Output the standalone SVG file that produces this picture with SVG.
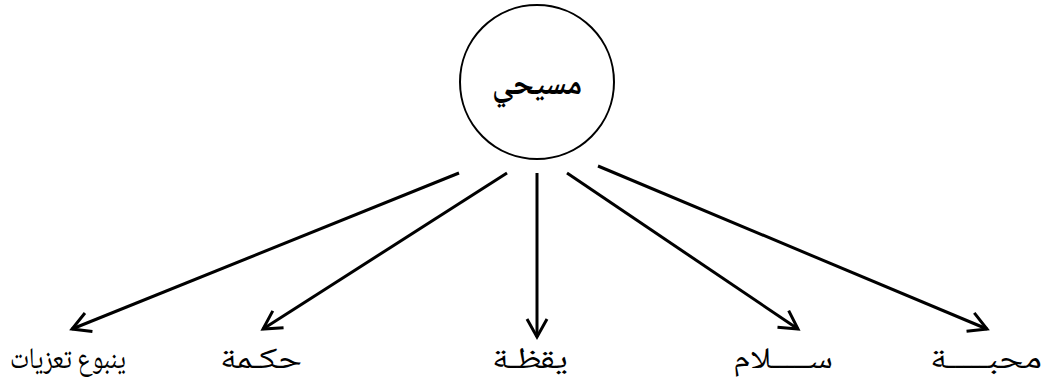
<svg xmlns="http://www.w3.org/2000/svg" width="1047" height="388" viewBox="0 0 1047 388">
<style>
.lbl{font-family:"Noto Naskh Arabic","Noto Sans Arabic","DejaVu Sans",sans-serif;font-size:30px;fill:#000;text-anchor:middle}
.ttl{font-family:"Noto Naskh Arabic","Noto Sans Arabic","DejaVu Sans",sans-serif;font-size:33px;font-weight:bold;fill:#000;text-anchor:middle}
.edge{stroke:#000;stroke-width:3;fill:none;marker-end:url(#ah)}
</style>
<defs>
<marker id="ah" markerUnits="userSpaceOnUse" markerWidth="30" markerHeight="30" refX="20" refY="12" orient="auto" viewBox="0 0 30 24">
<path d="M2,2 L20,12 L2,22" fill="none" stroke="#000" stroke-width="3"/>
</marker>
</defs>
<g id="center">
<circle cx="537" cy="82" r="77" fill="#fff" stroke="#000" stroke-width="2"/>
<text class="ttl" x="537" y="94" textLength="90" lengthAdjust="spacingAndGlyphs">مسيحي</text>
</g>
<g id="connectors">
<line class="edge" x1="459" y1="173" x2="72" y2="329"/>
<line class="edge" x1="507" y1="173" x2="263" y2="329"/>
<line class="edge" x1="537" y1="173" x2="537" y2="337"/>
<line class="edge" x1="567" y1="173" x2="798" y2="329"/>
<line class="edge" x1="598" y1="166" x2="987" y2="329"/>
</g>
<g id="n1"><text class="lbl" x="68" y="368" textLength="116" lengthAdjust="spacingAndGlyphs">ينبوع تعزيات</text></g>
<g id="n2"><text class="lbl" x="261" y="368" textLength="82" lengthAdjust="spacingAndGlyphs">حكـمة</text></g>
<g id="n3"><text class="lbl" x="530" y="368" textLength="76" lengthAdjust="spacingAndGlyphs">يقظـة</text></g>
<g id="n4"><text class="lbl" x="783" y="368" textLength="100" lengthAdjust="spacingAndGlyphs">ســـــلام</text></g>
<g id="n5"><text class="lbl" x="986" y="368" textLength="112" lengthAdjust="spacingAndGlyphs">محبـــــة</text></g>
</svg>
